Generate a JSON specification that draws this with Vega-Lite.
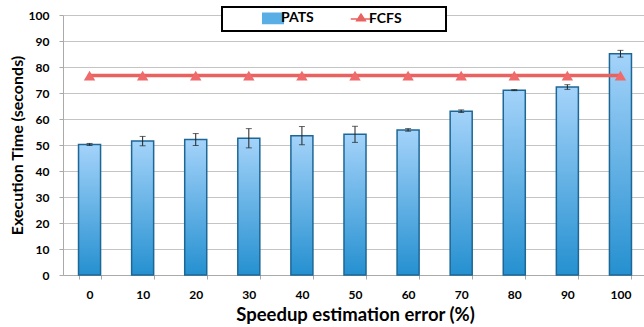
{
  "$schema": "https://vega.github.io/schema/vega-lite/v6.json",
  "width": 584,
  "height": 260,
  "autosize": {"type": "none"},
  "padding": {"left": 63, "top": 15, "right": -3, "bottom": 52},
  "background": "white",
  "config": {
    "font": "Lato",
    "view": {"stroke": null},
    "axis": {"labelFont": "Lato", "labelFontWeight": "bold", "labelFontSize": 12, "labelColor": "#000", "titleFont": "Lato", "titleFontWeight": "bold", "titleFontSize": 16, "titleColor": "#000", "domainColor": "#aaa", "tickColor": "#aaa", "gridColor": "#c4c4c4"}
  },
  "data": {"values": [
    {"e": 0, "pats": 50.2, "err": 0.4, "fcfs": 76.7},
    {"e": 10, "pats": 51.5, "err": 1.8, "fcfs": 76.7},
    {"e": 20, "pats": 52.1, "err": 2.3, "fcfs": 76.7},
    {"e": 30, "pats": 52.6, "err": 3.7, "fcfs": 76.7},
    {"e": 40, "pats": 53.6, "err": 3.5, "fcfs": 76.7},
    {"e": 50, "pats": 54.1, "err": 3.1, "fcfs": 76.7},
    {"e": 60, "pats": 55.8, "err": 0.5, "fcfs": 76.7},
    {"e": 70, "pats": 63.0, "err": 0.5, "fcfs": 76.7},
    {"e": 80, "pats": 71.1, "err": 0.2, "fcfs": 76.7},
    {"e": 90, "pats": 72.3, "err": 0.9, "fcfs": 76.7},
    {"e": 100, "pats": 85.1, "err": 1.3, "fcfs": 76.7}
  ]},
  "encoding": {
    "x": {"field": "e", "type": "ordinal", "scale": {"paddingInner": 0.585, "paddingOuter": 0.2925},
      "axis": {"title": "Speedup estimation error (%)", "titleFontSize": 18.5, "labelAngle": 0, "tickBand": "extent", "tickSize": 4, "labelPadding": 10, "titlePadding": 5, "grid": false}}
  },
  "layer": [
    {
      "mark": {"type": "bar", "stroke": "#1d6796", "strokeWidth": 1.5,
        "color": {"gradient": "linear", "x1": 0, "y1": 0, "x2": 0, "y2": 1,
          "stops": [{"offset": 0, "color": "#a4d3fa"}, {"offset": 1, "color": "#2590d0"}]}},
      "encoding": {
        "y": {"field": "pats", "type": "quantitative", "scale": {"domain": [0, 100]},
          "axis": {"title": "Execution Time (seconds)", "values": [0,10,20,30,40,50,60,70,80,90,100], "labelOverlap": false, "tickSize": 4, "labelPadding": 10, "titlePadding": 3}}
      }
    },
    {
      "mark": {"type": "errorbar", "ticks": {"size": 6, "color": "#222"}, "rule": {"color": "#222", "strokeWidth": 1}},
      "encoding": {
        "y": {"field": "pats", "type": "quantitative",
          "axis": {"title": "Execution Time (seconds)", "values": [0,10,20,30,40,50,60,70,80,90,100], "labelOverlap": false, "tickSize": 4, "labelPadding": 10, "titlePadding": 3}},
        "yError": {"field": "err"}
      }
    },
    {
      "mark": {"type": "line", "strokeWidth": 3.5},
      "encoding": {
        "y": {"field": "fcfs", "type": "quantitative",
          "axis": {"title": "Execution Time (seconds)", "values": [0,10,20,30,40,50,60,70,80,90,100], "labelOverlap": false, "tickSize": 4, "labelPadding": 10, "titlePadding": 3}},
        "color": {"datum": "FCFS", "type": "nominal",
          "scale": {"domain": ["PATS", "FCFS"], "range": ["#5aaee6", "#e8625f"]},
          "legend": {
            "title": null, "orient": "none", "legendX": 159, "legendY": -8, "direction": "horizontal",
            "padding": 4, "symbolOffset": 40, "columnPadding": 0, "labelOffset": 1,
            "labelFont": "Lato", "labelFontWeight": "bold", "labelFontSize": 14, "labelColor": "#000",
            "symbolSize": 420, "symbolStrokeWidth": 1.5,
            "labelExpr": "datum.label == 'FCFS' ? 'FCFS\u2800\u2800\u2800\u2800' : datum.label",
            "fillColor": "white",
            "encode": {
              "legend": {"update": {"stroke": {"value": "#000"}, "strokeWidth": {"value": 2}}},
              "symbols": {"update": {
                "shape": {"signal": "datum.value == 'PATS' ? 'M-1,-0.5H1V0.5H-1Z' : 'M-1,-0.08H-0.35L0,-0.6L0.35,-0.08H1V0.08H0.45L0.55,0.25H-0.55L-0.45,0.08H-1Z'"},
                "fill": {"signal": "datum.value == 'PATS' ? '#5aaee6' : '#e8625f'"},
                "stroke": {"signal": "datum.value == 'PATS' ? '#1d6796' : '#e8625f'"},
                "strokeWidth": {"signal": "datum.value == 'PATS' ? 1.5 : 0"}
              }}
            }
          }}
      }
    },
    {
      "mark": {"type": "point", "shape": "triangle-up", "filled": true, "opacity": 1, "size": 130, "color": "#ef6a6a"},
      "encoding": {
        "y": {"field": "fcfs", "type": "quantitative",
          "axis": {"title": "Execution Time (seconds)", "values": [0,10,20,30,40,50,60,70,80,90,100], "labelOverlap": false, "tickSize": 4, "labelPadding": 10, "titlePadding": 3}}
      }
    }
  ]
}
